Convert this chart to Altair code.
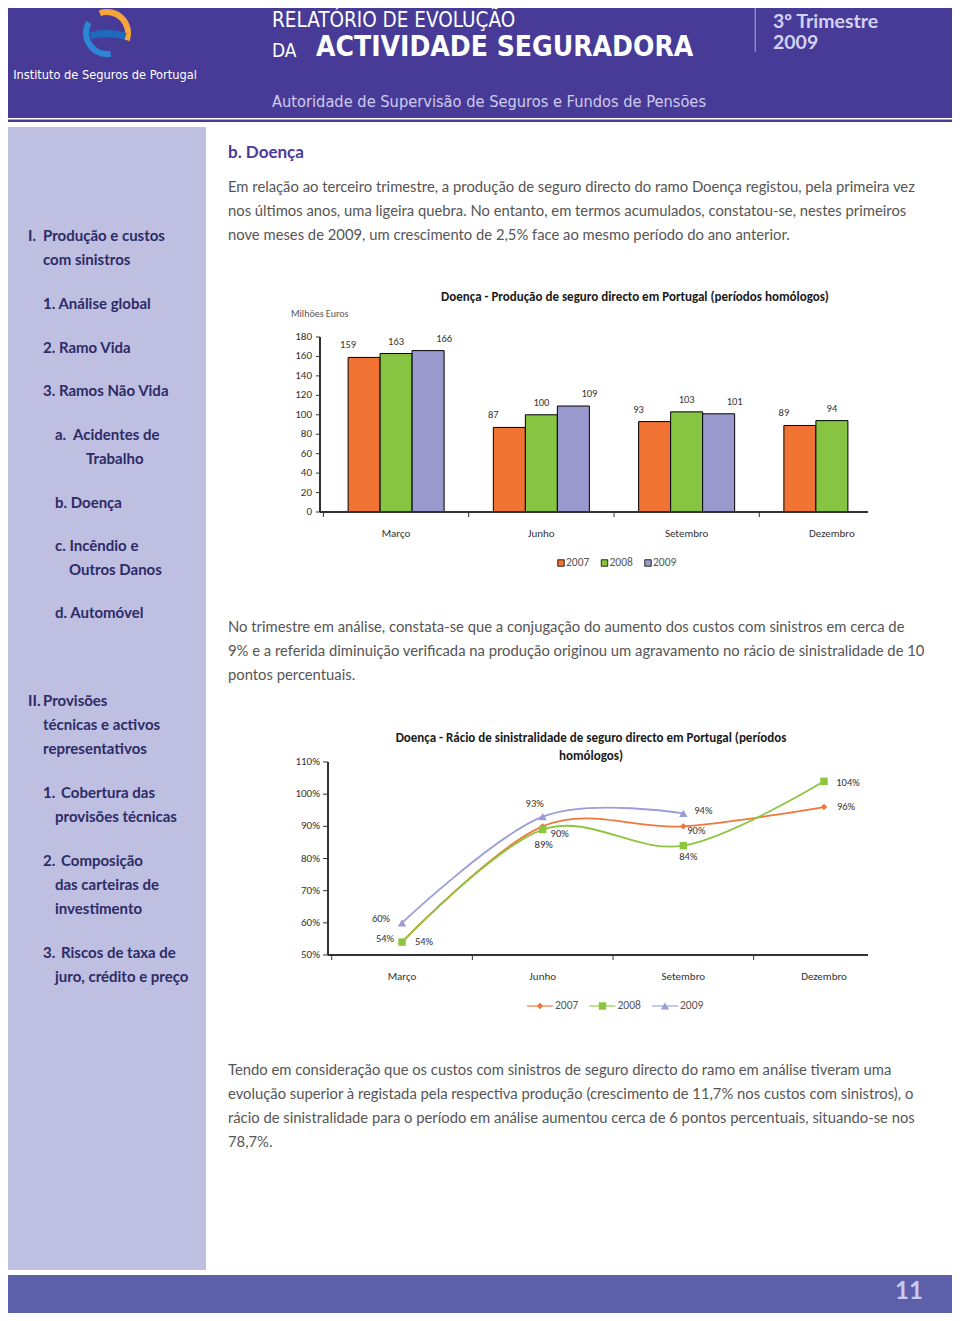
import math
import altair as alt
import pandas as pd

# ---------------- data ----------------
months = ["Março", "Junho", "Setembro", "Dezembro"]
years = ["2007", "2008", "2009"]

prod_2007 = [159, 87, 93, 89]
prod_2008 = [163, 100, 103, 94]
prod_2009 = [166, 109, 101, None]

ratio_2007 = [0.54, 0.90, 0.90, 0.96]
ratio_2008 = [0.54, 0.89, 0.84, 1.04]
ratio_2009 = [0.60, 0.93, 0.94, None]

bar_ticks = [0, 20, 40, 60, 80, 100, 120, 140, 160, 180]
ratio_ticks = [0.5, 0.6, 0.7, 0.8, 0.9, 1.0, 1.1]

bar_colors = ["#F07334", "#86C441", "#9A99CD"]
line_colors = ["#F0763A", "#8CC63F", "#9C9CD6"]
line_shapes = ["diamond", "square", "triangle-up"]
line_sizes = [40, 70, 60]

# label placement (dx, dy) for the ratio labels, per year and month
ratio_label_dx = {"2007": [-17, 17, 13, 22], "2008": [22, 1, 5, 24], "2009": [-21, -8, 20, None]}
ratio_label_dy = {"2007": [-3, 8, 5, 0], "2008": [0, 15, 11, 2], "2009": [-4, -13, -2, None]}

OFF = 8
def P(v):
    return v - OFF

CHART_FONT = "Carlito, Lato, 'Open Sans', sans-serif"
BODY_FONT = "Lato, 'Open Sans', sans-serif"
COND_FONT = "'Liberation Sans Narrow', 'DejaVu Sans Condensed', 'Roboto Condensed', Roboto, sans-serif"

layers = []

# ---------------- page decoration ----------------
def rect(x0, x1, y0, y1, color):
    return alt.Chart(pd.DataFrame({"a": [0]})).mark_rect(color=color).encode(
        x=alt.value(max(P(x0), 0)), x2=alt.value(P(x1)),
        y=alt.value(max(P(y0), 0)), y2=alt.value(P(y1)))

HEADER = "#473B97"
layers.append(rect(0, 960, 0, 118, HEADER))
layers.append(rect(0, 960, 119.5, 122, HEADER))
layers.append(rect(0, 206, 127, 1270, "#BFBFE2"))
layers.append(rect(0, 960, 1275, 1321, "#5C5FA9"))
layers.append(rect(754.5, 756, 3, 52, "#8A84C8"))

# logo arcs
def arc(cx, cy, r0, r1, t0, t1, color):
    return alt.Chart(pd.DataFrame({"a": [0]})).mark_arc(
        theta=math.radians(t0), theta2=math.radians(t1), radius=r1, radius2=r0, color=color
    ).encode(x=alt.value(P(cx)), y=alt.value(P(cy)))

layers.append(arc(107, 33, 18, 24, 170, 300, "#2C86D6"))
layers.append(arc(107, 33, 18, 24, 340, 470, "#F6A53E"))
layers.append(arc(107, 97, 60, 67, 345, 377, "#1E6BBE"))


def text_layer(rows, font, size, color, weight="normal", align="left", baseline="middle"):
    df = pd.DataFrame(rows, columns=["text", "x", "y"])
    df["x"] = df["x"] - OFF
    df["y"] = df["y"] - OFF
    return alt.Chart(df).mark_text(
        font=font, fontSize=size, color=color, fontWeight=weight, align=align, baseline=baseline
    ).encode(
        x=alt.X("x:Q", scale=None, axis=None),
        y=alt.Y("y:Q", scale=None, axis=None),
        text="text:N",
    )

# header texts
layers.append(text_layer([("Instituto de Seguros de Portugal", 105, 75)], COND_FONT, 12.7, "white", align="center"))
layers.append(text_layer([("RELATÓRIO DE EVOLUÇÃO", 272, 21)], COND_FONT, 20.5, "white"))
layers.append(text_layer([("DA", 272, 51)], COND_FONT, 19, "white"))
layers.append(text_layer([("ACTIVIDADE SEGURADORA", 316, 48)], COND_FONT, 28, "white", weight="bold"))
layers.append(text_layer([("3º Trimestre", 773, 22), ("2009", 773, 43)], BODY_FONT, 19.5, "#D4D2F2", weight="bold"))
layers.append(text_layer([("Autoridade de Supervisão de Seguros e Fundos de Pensões", 272, 102)], COND_FONT, 16.3, "#CFCBEF"))
layers.append(text_layer([("11", 909, 1292)], BODY_FONT, 24, "#C9CAF0", weight="bold", align="center"))

# sidebar
side_rows = [
    ("I.", 28, 236), ("Produção e custos", 43, 236), ("com sinistros", 43, 260),
    ("1. Análise global", 43, 304),
    ("2. Ramo Vida", 43, 348),
    ("3. Ramos Não Vida", 43, 391),
    ("a.", 55, 435), ("Acidentes de", 73, 435), ("Trabalho", 86, 459),
    ("b. Doença", 55, 503),
    ("c. Incêndio e", 55, 546), ("Outros Danos", 69, 570),
    ("d. Automóvel", 55, 613),
    ("II.", 28, 701), ("Provisões", 43, 701), ("técnicas e activos", 43, 725), ("representativos", 43, 749),
    ("1.", 43, 793), ("Cobertura das", 61, 793), ("provisões técnicas", 55, 817),
    ("2.", 43, 861), ("Composição", 61, 861), ("das carteiras de", 55, 885), ("investimento", 55, 909),
    ("3.", 43, 953), ("Riscos de taxa de", 61, 953), ("juro, crédito e preço", 55, 977),
]
layers.append(text_layer(side_rows, BODY_FONT, 15, "#2D2B66", weight="bold"))

# main texts
layers.append(text_layer([("b. Doença", 228, 153)], BODY_FONT, 17, "#4B3B9B", weight="bold"))
body_rows = [
    ("Em relação ao terceiro trimestre, a produção de seguro directo do ramo Doença registou, pela primeira vez", 228, 188),
    ("nos últimos anos, uma ligeira quebra. No entanto, em termos acumulados, constatou-se, nestes primeiros", 228, 212),
    ("nove meses de 2009, um crescimento de 2,5% face ao mesmo período do ano anterior.", 228, 236),
    ("No trimestre em análise, constata-se que a conjugação do aumento dos custos com sinistros em cerca de", 228, 628),
    ("9% e a referida diminuição verificada na produção originou um agravamento no rácio de sinistralidade de 10", 228, 652),
    ("pontos percentuais.", 228, 676),
    ("Tendo em consideração que os custos com sinistros de seguro directo do ramo em análise tiveram uma", 228, 1071),
    ("evolução superior à registada pela respectiva produção (crescimento de 11,7% nos custos com sinistros), o", 228, 1095),
    ("rácio de sinistralidade para o período em análise aumentou cerca de 6 pontos percentuais, situando-se nos", 228, 1119),
    ("78,7%.", 228, 1143),
]
layers.append(text_layer(body_rows, BODY_FONT, 14.8, "#555555"))

# chart titles
layers.append(text_layer([("Doença - Produção de seguro directo em Portugal (períodos homólogos)", 635, 297)],
                         CHART_FONT, 13, "#1A1A1A", weight="bold", align="center"))
layers.append(text_layer([("Doença - Rácio de sinistralidade de seguro directo em Portugal (períodos", 591, 738),
                          ("homólogos)", 591, 756)], CHART_FONT, 13, "#1A1A1A", weight="bold", align="center"))
layers.append(text_layer([("Milhões Euros", 291, 314)], CHART_FONT, 10, "#555555"))

# ---------------- bar chart ----------------
bar_rows = []
for yr, vals in zip(years, [prod_2007, prod_2008, prod_2009]):
    for m, v in zip(months, vals):
        if v is not None:
            bar_rows.append({"month": m, "year": yr, "value": v})
bar_df = pd.DataFrame(bar_rows)

bx = alt.Scale(domain=months, range=[P(323.4), P(904.6)], paddingInner=0.339, paddingOuter=0.17)
bx_full = alt.Scale(domain=months, range=[P(323.4), P(904.6)], paddingInner=0, paddingOuter=0)
bxo = alt.Scale(domain=years, paddingInner=0, paddingOuter=0)
by = alt.Scale(domain=[0, 180], range=[P(512), P(337)], nice=False)
bcol = alt.Scale(domain=years, range=bar_colors)

layers.append(alt.Chart(bar_df).mark_bar(stroke="black", strokeWidth=1).encode(
    x=alt.X("month:N", scale=bx, axis=None),
    xOffset=alt.XOffset("year:N", scale=bxo),
    y=alt.Y("value:Q", scale=by, axis=None),
    color=alt.Color("year:N", scale=bcol, legend=None),
))
layers.append(alt.Chart(bar_df).mark_text(dy=-12, fontSize=10.5, font=CHART_FONT, color="#333333").encode(
    x=alt.X("month:N", scale=bx, axis=None),
    xOffset=alt.XOffset("year:N", scale=bxo),
    y=alt.Y("value:Q", scale=by, axis=None),
    text="value:Q",
))

btick_df = pd.DataFrame({"t": bar_ticks})
layers.append(alt.Chart(btick_df).mark_text(align="right", baseline="middle", fontSize=11, font=CHART_FONT, color="#333333").encode(
    x=alt.value(P(312)), y=alt.Y("t:Q", scale=by, axis=None), text="t:Q"))
layers.append(alt.Chart(btick_df).mark_rule(color="#333333").encode(
    x=alt.value(P(316)), x2=alt.value(P(320)), y=alt.Y("t:Q", scale=by, axis=None)))
layers.append(alt.Chart(btick_df).mark_rule(color="#333333").encode(
    x=alt.value(P(320)), y=alt.value(P(337)), y2=alt.value(P(512))))
layers.append(alt.Chart(btick_df).mark_rule(color="#333333", strokeWidth=1.2).encode(
    x=alt.value(P(320)), x2=alt.value(P(868)), y=alt.value(P(512))))

bm_df = pd.DataFrame({"month": months})
layers.append(alt.Chart(bm_df).mark_rule(color="#333333").encode(
    x=alt.X("month:N", scale=bx_full, bandPosition=0, axis=None),
    y=alt.value(P(512)), y2=alt.value(P(517))))
layers.append(alt.Chart(bm_df).mark_text(fontSize=11, font=CHART_FONT, color="#333333").encode(
    x=alt.X("month:N", scale=bx_full, bandPosition=0.5, axis=None),
    y=alt.value(P(534)), text="month:N"))

# bar legend
leg_df = pd.DataFrame({"year": years})
blx = alt.Scale(type="point", domain=years, range=[P(561), P(648)], padding=0)
layers.append(alt.Chart(leg_df).mark_square(size=42, stroke="black", strokeWidth=0.8, opacity=1).encode(
    x=alt.X("year:N", scale=blx, axis=None), y=alt.value(P(563)),
    color=alt.Color("year:N", scale=bcol, legend=None)))
layers.append(alt.Chart(leg_df).mark_text(align="left", dx=5, fontSize=11.5, font=CHART_FONT, color="#555555").encode(
    x=alt.X("year:N", scale=blx, axis=None), y=alt.value(P(563)), text="year:N"))

# ---------------- line chart ----------------
line_rows = []
for yr, vals in zip(years, [ratio_2007, ratio_2008, ratio_2009]):
    for i, (m, v) in enumerate(zip(months, vals)):
        if v is not None:
            line_rows.append({"month": m, "year": yr, "value": v, "order": i,
                              "label": f"{round(v * 100)}%"})
line_df = pd.DataFrame(line_rows)

lx = alt.Scale(type="point", domain=months, range=[P(402), P(824)], padding=0)
lx_full = alt.Scale(domain=months, range=[P(331.7), P(894.3)], paddingInner=0, paddingOuter=0)
ly = alt.Scale(domain=[0.5, 1.1], range=[P(955), P(762)], nice=False, zero=False)
lcol = alt.Scale(domain=years, range=line_colors)
lshape = alt.Scale(domain=years, range=line_shapes)
lsize = alt.Scale(domain=years, range=line_sizes)

rtick_df = pd.DataFrame({"t": ratio_ticks})
layers.append(alt.Chart(rtick_df).mark_text(align="right", baseline="middle", fontSize=11, font=CHART_FONT, color="#333333").encode(
    x=alt.value(P(320)), y=alt.Y("t:Q", scale=ly, axis=None), text=alt.Text("t:Q", format=".0%")))
layers.append(alt.Chart(rtick_df).mark_rule(color="#333333").encode(
    x=alt.value(P(323)), x2=alt.value(P(328)), y=alt.Y("t:Q", scale=ly, axis=None)))
layers.append(alt.Chart(rtick_df).mark_rule(color="#333333").encode(
    x=alt.value(P(328)), y=alt.value(P(762)), y2=alt.value(P(955))))
layers.append(alt.Chart(rtick_df).mark_rule(color="#333333", strokeWidth=1.2).encode(
    x=alt.value(P(328)), x2=alt.value(P(868)), y=alt.value(P(955))))
layers.append(alt.Chart(bm_df).mark_rule(color="#333333").encode(
    x=alt.X("month:N", scale=lx_full, bandPosition=0, axis=None),
    y=alt.value(P(955)), y2=alt.value(P(960))))
layers.append(alt.Chart(bm_df).mark_text(fontSize=11, font=CHART_FONT, color="#333333").encode(
    x=alt.X("month:N", scale=lx, axis=None), y=alt.value(P(977)), text="month:N"))

layers.append(alt.Chart(line_df).mark_line(interpolate="cardinal", tension=0, strokeWidth=1.8).encode(
    x=alt.X("month:N", scale=lx, axis=None),
    y=alt.Y("value:Q", scale=ly, axis=None),
    color=alt.Color("year:N", scale=lcol, legend=None),
    order="order:Q",
))
layers.append(alt.Chart(line_df).mark_point(filled=True, opacity=1).encode(
    x=alt.X("month:N", scale=lx, axis=None),
    y=alt.Y("value:Q", scale=ly, axis=None),
    color=alt.Color("year:N", scale=lcol, legend=None),
    shape=alt.Shape("year:N", scale=lshape, legend=None),
    size=alt.Size("year:N", scale=lsize, legend=None),
))

for row in line_rows:
    i = row["order"]
    dx = ratio_label_dx[row["year"]][i]
    dy = ratio_label_dy[row["year"]][i]
    layers.append(alt.Chart(pd.DataFrame([row])).mark_text(
        dx=dx, dy=dy, fontSize=10.5, font=CHART_FONT, color="#333333").encode(
        x=alt.X("month:N", scale=lx, axis=None),
        y=alt.Y("value:Q", scale=ly, axis=None),
        text="label:N"))

# line legend
llx = alt.Scale(type="point", domain=years, range=[P(540), P(665)], padding=0)
layers.append(alt.Chart(leg_df).mark_tick(orient="horizontal", size=26, thickness=1.6).encode(
    x=alt.X("year:N", scale=llx, axis=None), y=alt.value(P(1006)),
    color=alt.Color("year:N", scale=lcol, legend=None)))
layers.append(alt.Chart(leg_df).mark_point(filled=True, opacity=1).encode(
    x=alt.X("year:N", scale=llx, axis=None), y=alt.value(P(1006)),
    color=alt.Color("year:N", scale=lcol, legend=None),
    shape=alt.Shape("year:N", scale=lshape, legend=None),
    size=alt.Size("year:N", scale=lsize, legend=None)))
layers.append(alt.Chart(leg_df).mark_text(align="left", dx=15, fontSize=11.5, font=CHART_FONT, color="#555555").encode(
    x=alt.X("year:N", scale=llx, axis=None), y=alt.value(P(1006)), text="year:N"))

chart = alt.layer(*layers).resolve_scale(
    x="independent", y="independent", color="independent",
    shape="independent", size="independent", xOffset="independent",
).properties(
    width=944, height=1305, padding=0,
    autosize=alt.AutoSizeParams(type="none"),
    background="white",
).configure_view(stroke=None)

chart.save("out.html", embed_options={"renderer": "svg", "actions": False})
